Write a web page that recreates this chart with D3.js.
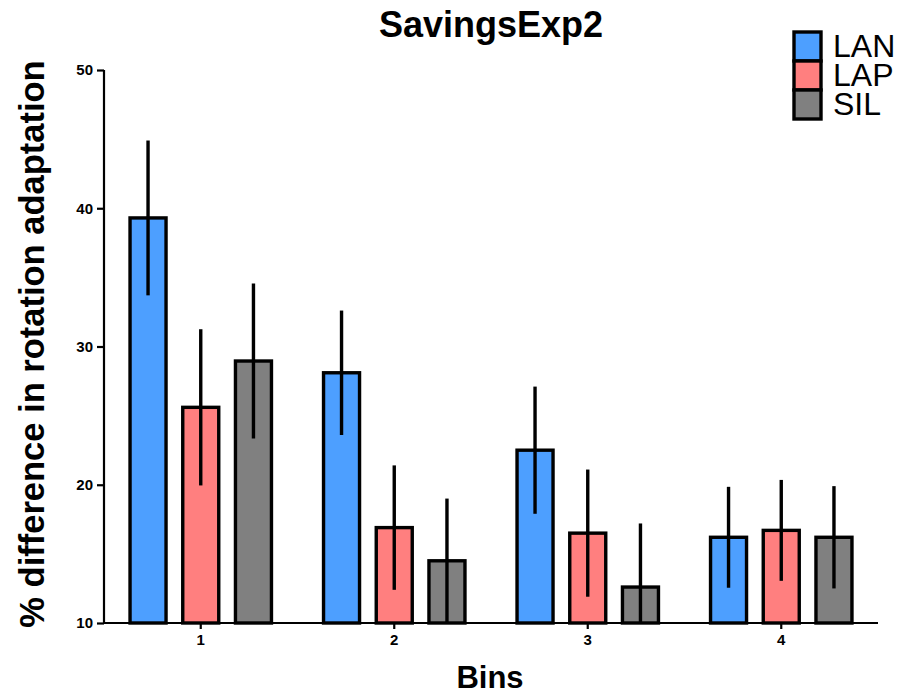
<!DOCTYPE html>
<html>
<head>
<meta charset="utf-8">
<script src="https://cdn.jsdelivr.net/npm/d3@7/dist/d3.min.js"></script>
<style>
  html, body { margin: 0; padding: 0; background: #fff; }
  svg { display: block; font-family: "Liberation Sans", Arial, sans-serif; }
</style>
</head>
<body>
<svg id="chart" width="901" height="694"></svg>
<script>
// ---- data ----
const bins = ["1", "2", "3", "4"];
const groups = ["LAN", "LAP", "SIL"];
const lanMean = [39.3, 28.1, 22.5, 16.2];
const lanErr  = [5.6, 4.5, 4.6, 3.65];
const lapMean = [25.6, 16.9, 16.5, 16.7];
const lapErr  = [5.65, 4.5, 4.6, 3.65];
const silMean = [28.95, 14.5, 12.6, 16.2];
const silErr  = [5.6, 4.5, 4.6, 3.7];
const yTicks = [10, 20, 30, 40, 50];
const colors = ["#4d9fff", "#ff7f7f", "#808080"];

const means = [lanMean, lapMean, silMean];
const errs = [lanErr, lapErr, silErr];

const svg = d3.select("#chart");
const mLeft = 104, mRight = 878, mTop = 70, mBottom = 623;

const y = d3.scaleLinear().domain([10, 50]).range([mBottom, mTop]);
const x0 = d3.scaleBand().domain(bins).range([mLeft, mRight]).padding(0);
const x1 = d3.scaleBand().domain(groups).range([0, x0.bandwidth()])
  .paddingInner(0.317).paddingOuter(0.494);
const color = d3.scaleOrdinal().domain(groups).range(colors);

const data = [];
bins.forEach((b, i) => groups.forEach((g, j) => {
  data.push({bin: b, group: g, mean: means[j][i], err: errs[j][i]});
}));

// bars
const g = svg.append("g");
g.selectAll("rect.bar").data(data).join("rect")
  .attr("class", "bar")
  .attr("x", d => x0(d.bin) + x1(d.group))
  .attr("width", x1.bandwidth())
  .attr("y", d => y(d.mean))
  .attr("height", d => y(10) - y(d.mean))
  .attr("fill", d => color(d.group))
  .attr("stroke", "#000")
  .attr("stroke-width", 3.4);

// error bars
g.selectAll("line.err").data(data).join("line")
  .attr("class", "err")
  .attr("x1", d => x0(d.bin) + x1(d.group) + x1.bandwidth() / 2)
  .attr("x2", d => x0(d.bin) + x1(d.group) + x1.bandwidth() / 2)
  .attr("y1", d => y(Math.min(50, d.mean + d.err)))
  .attr("y2", d => y(Math.max(10, d.mean - d.err)))
  .attr("stroke", "#000")
  .attr("stroke-width", 3.4);

// y axis
const yAxis = svg.append("g").attr("transform", `translate(${mLeft},0)`)
  .call(d3.axisLeft(y).tickValues(yTicks).tickSize(7).tickPadding(4).tickFormat(d3.format("d")));
yAxis.select(".domain").attr("stroke-width", 2.2).attr("d", `M0,${mTop}V${mBottom}`);
yAxis.selectAll(".tick line").attr("stroke-width", 2.2);
yAxis.selectAll(".tick text").attr("font-size", 15).attr("font-weight", "bold")
  .attr("fill", "#000").attr("font-family", "Liberation Sans, Arial, sans-serif");

// x axis
const xAxis = svg.append("g").attr("transform", `translate(0,${mBottom})`)
  .call(d3.axisBottom(x0).tickSize(6).tickPadding(5));
xAxis.select(".domain").attr("stroke-width", 2.2).attr("d", `M${mLeft},0H${mRight}`);
xAxis.selectAll(".tick line").attr("stroke-width", 2.2);
xAxis.selectAll(".tick text").attr("font-size", 15).attr("font-weight", "bold")
  .attr("fill", "#000").attr("font-family", "Liberation Sans, Arial, sans-serif");

// title
svg.append("text").attr("x", 491).attr("y", 37).attr("text-anchor", "middle")
  .attr("font-size", 36).attr("font-weight", "bold").text("SavingsExp2");

// axis titles
svg.append("text").attr("x", 490).attr("y", 688).attr("text-anchor", "middle")
  .attr("font-size", 31).attr("font-weight", "bold").text("Bins");
svg.append("text").attr("transform", "translate(44,344) rotate(-90)")
  .attr("text-anchor", "middle").attr("font-size", 34.5).attr("font-weight", "bold")
  .text("% difference in rotation adaptation");

// legend
const lg = svg.append("g");
const lx = 794, ly = 32, lw = 27, lh = 29;
groups.forEach((gr, i) => {
  lg.append("rect").attr("x", lx).attr("y", ly + i * lh).attr("width", lw).attr("height", lh)
    .attr("fill", color(gr)).attr("stroke", "#000").attr("stroke-width", 3.4);
  lg.append("text").attr("x", 833).attr("y", ly + i * lh + 25)
    .attr("font-size", 32).attr("fill", "#000").text(gr);
});
</script>
</body>
</html>
